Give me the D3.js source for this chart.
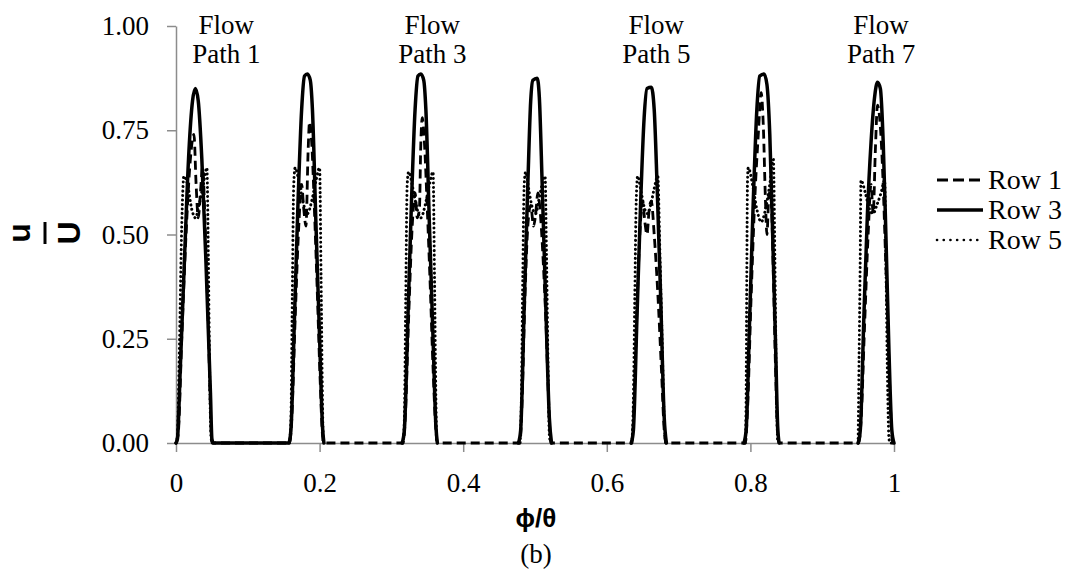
<!DOCTYPE html>
<html>
<head>
<meta charset="utf-8">
<script src="https://cdn.jsdelivr.net/npm/d3@7/dist/d3.min.js"></script>
<style>
  html, body { margin: 0; padding: 0; background: #fff; }
  svg { display: block; }
</style>
</head>
<body>
<svg id="chart" width="1075" height="574"></svg>
<script>
// ---------- DATA ----------
const xTicks = [0, 0.2, 0.4, 0.6, 0.8, 1];
const xTickLabels = ["0", "0.2", "0.4", "0.6", "0.8", "1"];
const yTicks = [0, 0.25, 0.5, 0.75, 1];
const yTickLabels = ["0.00", "0.25", "0.50", "0.75", "1.00"];
const seriesNames = ["Row 1", "Row 3", "Row 5"];
const flowLabels = [["Flow", "Path 1"], ["Flow", "Path 3"], ["Flow", "Path 5"], ["Flow", "Path 7"]];
const flowLabelPhi = [0.070, 0.357, 0.669, 0.982];

// Row 1 (dashed) [phi, u]
const row1 = [
  [0,0],[0.003,0.02],[0.008,0.25],[0.014,0.50],[0.020,0.68],[0.025,0.74],[0.028,0.62],[0.031,0.54],[0.034,0.60],[0.037,0.66],[0.041,0.50],[0.045,0.28],[0.048,0.08],[0.050,0],
  [0.158,0],[0.161,0.05],[0.166,0.30],[0.171,0.52],[0.175,0.62],[0.178,0.56],[0.181,0.52],[0.184,0.70],[0.186,0.77],[0.189,0.72],[0.193,0.55],[0.197,0.35],[0.201,0.14],[0.204,0.02],[0.206,0],
  [0.316,0],[0.319,0.05],[0.324,0.30],[0.329,0.52],[0.333,0.60],[0.336,0.54],[0.339,0.56],[0.341,0.72],[0.343,0.78],[0.346,0.72],[0.350,0.56],[0.354,0.38],[0.358,0.18],[0.362,0.03],[0.364,0],
  [0.479,0],[0.482,0.10],[0.486,0.35],[0.490,0.52],[0.494,0.57],[0.498,0.52],[0.501,0.55],[0.504,0.60],[0.507,0.56],[0.511,0.45],[0.515,0.30],[0.519,0.10],[0.522,0],
  [0.635,0],[0.638,0.10],[0.642,0.32],[0.646,0.50],[0.650,0.58],[0.653,0.53],[0.656,0.50],[0.659,0.56],[0.662,0.58],[0.666,0.50],[0.671,0.36],[0.676,0.18],[0.680,0.03],[0.682,0],
  [0.793,0],[0.796,0.08],[0.801,0.35],[0.806,0.58],[0.811,0.74],[0.815,0.84],[0.818,0.76],[0.821,0.58],[0.823,0.50],[0.826,0.60],[0.829,0.58],[0.832,0.40],[0.835,0.18],[0.838,0.02],[0.840,0],
  [0.951,0],[0.954,0.05],[0.959,0.28],[0.964,0.50],[0.968,0.62],[0.971,0.55],[0.974,0.70],[0.977,0.81],[0.980,0.78],[0.984,0.66],[0.988,0.46],[0.992,0.24],[0.996,0.05],[0.998,0],[1.0,0]
];

// Row 3 (solid) [phi, u]; null = gap
const row3 = [
  [0,0],[0.002,0.01],[0.006,0.18],[0.012,0.45],[0.018,0.70],[0.023,0.82],[0.027,0.85],[0.031,0.82],[0.036,0.68],[0.042,0.42],[0.048,0.12],[0.050,0.01],[0.052,0],
  [0.157,0],[0.160,0.03],[0.165,0.30],[0.170,0.58],[0.175,0.80],[0.179,0.88],[0.183,0.885],[0.187,0.87],[0.190,0.80],[0.195,0.52],[0.200,0.25],[0.204,0.04],[0.206,0],
  [0.26,null],
  [0.315,0],[0.318,0.03],[0.323,0.30],[0.328,0.58],[0.333,0.80],[0.337,0.88],[0.341,0.885],[0.345,0.87],[0.348,0.80],[0.353,0.52],[0.358,0.25],[0.362,0.04],[0.364,0],
  [0.42,null],
  [0.477,0],[0.480,0.03],[0.485,0.33],[0.490,0.62],[0.494,0.82],[0.497,0.87],[0.503,0.875],[0.506,0.83],[0.510,0.62],[0.515,0.33],[0.520,0.06],[0.523,0],
  [0.58,null],
  [0.634,0],[0.637,0.03],[0.642,0.30],[0.647,0.57],[0.652,0.78],[0.656,0.85],[0.662,0.853],[0.666,0.80],[0.670,0.62],[0.675,0.35],[0.680,0.06],[0.683,0],
  [0.74,null],
  [0.791,0],[0.794,0.03],[0.799,0.30],[0.804,0.58],[0.809,0.80],[0.813,0.88],[0.819,0.885],[0.823,0.86],[0.827,0.74],[0.831,0.50],[0.835,0.24],[0.838,0.04],[0.840,0],
  [0.90,null],
  [0.950,0],[0.953,0.03],[0.958,0.30],[0.963,0.55],[0.968,0.72],[0.973,0.83],[0.977,0.865],[0.981,0.85],[0.985,0.72],[0.989,0.48],[0.993,0.22],[0.997,0.03],[1.0,0]
];

// Row 5 (dotted) [phi, u]; null = gap
const row5 = [
  [0,0],[0.002,0.02],[0.005,0.25],[0.008,0.52],[0.011,0.64],[0.016,0.62],[0.022,0.56],[0.027,0.54],[0.032,0.57],[0.038,0.62],[0.043,0.66],[0.045,0.45],[0.047,0.15],[0.049,0.01],[0.051,0],
  [0.10,null],
  [0.158,0],[0.160,0.05],[0.162,0.35],[0.164,0.62],[0.166,0.66],[0.172,0.62],[0.178,0.57],[0.183,0.55],[0.189,0.58],[0.195,0.63],[0.200,0.66],[0.202,0.40],[0.204,0.10],[0.205,0],
  [0.26,null],
  [0.316,0],[0.318,0.05],[0.320,0.35],[0.322,0.62],[0.324,0.65],[0.330,0.61],[0.336,0.56],[0.341,0.54],[0.347,0.57],[0.353,0.62],[0.358,0.65],[0.360,0.40],[0.362,0.10],[0.363,0],
  [0.42,null],
  [0.479,0],[0.481,0.10],[0.483,0.40],[0.485,0.62],[0.487,0.65],[0.492,0.60],[0.497,0.56],[0.501,0.55],[0.505,0.58],[0.510,0.62],[0.514,0.64],[0.516,0.45],[0.518,0.20],[0.520,0.02],[0.522,0],
  [0.58,null],
  [0.635,0],[0.637,0.10],[0.639,0.35],[0.641,0.58],[0.643,0.64],[0.648,0.60],[0.653,0.56],[0.657,0.55],[0.661,0.57],[0.666,0.61],[0.671,0.64],[0.674,0.45],[0.677,0.25],[0.680,0.05],[0.682,0],
  [0.74,null],
  [0.793,0],[0.794,0.10],[0.795,0.40],[0.796,0.63],[0.797,0.66],[0.803,0.62],[0.809,0.56],[0.815,0.53],[0.821,0.56],[0.827,0.62],[0.832,0.68],[0.834,0.45],[0.836,0.15],[0.838,0],
  [0.90,null],
  [0.950,0],[0.951,0.15],[0.953,0.45],[0.954,0.63],[0.960,0.60],[0.966,0.56],[0.971,0.55],[0.976,0.57],[0.982,0.60],[0.987,0.63],[0.989,0.40],[0.991,0.15],[0.993,0.01],[0.995,0],[1.0,0]
];

// ---------- CHART ----------
const svg = d3.select("#chart");
const serif = "'Liberation Serif', 'Times New Roman', serif";
const sans = "'Liberation Sans', Arial, 'DejaVu Sans', sans-serif";
const axisColor = "#8c8c8c";

const x = d3.scaleLinear().domain([0, 1]).range([176, 894]);
const y = d3.scaleLinear().domain([0, 1]).range([443, 26]);

// axes
const gx = svg.append("g").attr("transform", `translate(0,${y(0)})`)
  .call(d3.axisBottom(x).tickValues(xTicks).tickFormat((d, i) => xTickLabels[i]).tickSize(9).tickSizeOuter(0).tickPadding(21));
const gy = svg.append("g").attr("transform", `translate(${x(0)},0)`)
  .call(d3.axisLeft(y).tickValues(yTicks).tickFormat((d, i) => yTickLabels[i]).tickSize(9).tickSizeOuter(0).tickPadding(18));
[gx, gy].forEach(g => {
  g.select(".domain").attr("stroke", axisColor).attr("stroke-width", 1.5);
  g.selectAll(".tick line").attr("stroke", axisColor).attr("stroke-width", 1.5);
  g.selectAll(".tick text").attr("fill", "#000").style("font-family", serif).style("font-size", "27px");
});

// lines
const line = d3.line()
  .defined(d => d[1] !== null)
  .x(d => x(d[0])).y(d => y(d[1]))
  .curve(d3.curveMonotoneX);

const styles = [
  { data: row1, width: 2.8, dash: "9,5", cap: "butt" },
  { data: row3, width: 3.5, dash: null, cap: "round" },
  { data: row5, width: 3.0, dash: "0.1,4.4", cap: "round" }
];
const plot = svg.append("g");
[styles[1], styles[0], styles[2]].forEach(s => {
  plot.append("path")
    .datum(s.data)
    .attr("fill", "none")
    .attr("stroke", "#000")
    .attr("stroke-width", s.width)
    .attr("stroke-linejoin", "round")
    .attr("stroke-linecap", s.cap)
    .attr("stroke-dasharray", s.dash)
    .attr("d", line);
});

// flow path annotations
flowLabels.forEach((lines, i) => {
  const t = svg.append("text")
    .attr("x", x(flowLabelPhi[i]))
    .attr("text-anchor", "middle")
    .style("font-family", serif).style("font-size", "27px");
  t.append("tspan").attr("x", x(flowLabelPhi[i])).attr("y", 34).text(lines[0]);
  t.append("tspan").attr("x", x(flowLabelPhi[i])).attr("y", 63).text(lines[1]);
});

// legend
const legend = svg.append("g");
const legendY = [180, 210, 240];
styles.forEach((s, i) => {
  legend.append("line")
    .attr("x1", 937).attr("x2", 983)
    .attr("y1", legendY[i]).attr("y2", legendY[i])
    .attr("stroke", "#000")
    .attr("stroke-width", i === 1 ? 3.4 : (i === 0 ? 3 : 2.6))
    .attr("stroke-linecap", i === 2 ? "round" : "butt")
    .attr("stroke-dasharray", i === 0 ? "11,5" : (i === 2 ? "0.1,6.6" : null));
  legend.append("text")
    .attr("x", 988).attr("y", legendY[i] + 9)
    .style("font-family", serif).style("font-size", "28px")
    .text(seriesNames[i]);
});

// axis titles
svg.append("text")
  .attr("x", 536).attr("y", 527)
  .attr("text-anchor", "middle")
  .style("font-family", sans).style("font-weight", "bold").style("font-size", "26px")
  .text("\u03D5/\u03B8");

svg.append("text")
  .attr("x", 536).attr("y", 563)
  .attr("text-anchor", "middle")
  .style("font-family", serif).style("font-size", "27px")
  .text("(b)");

// y title: rotated fraction u / U
const yt = svg.append("g").attr("transform", "translate(46,233) rotate(-90)");
yt.append("text").attr("x", 0).attr("y", -16).attr("text-anchor", "middle")
  .style("font-family", sans).style("font-weight", "bold").style("font-size", "32px").text("u");
yt.append("line").attr("x1", -11).attr("x2", 11).attr("y1", -1).attr("y2", -1)
  .attr("stroke", "#000").attr("stroke-width", 3);
yt.append("text").attr("x", 0).attr("y", 34).attr("text-anchor", "middle")
  .style("font-family", sans).style("font-weight", "bold").style("font-size", "32px").text("U");
</script>
</body>
</html>
